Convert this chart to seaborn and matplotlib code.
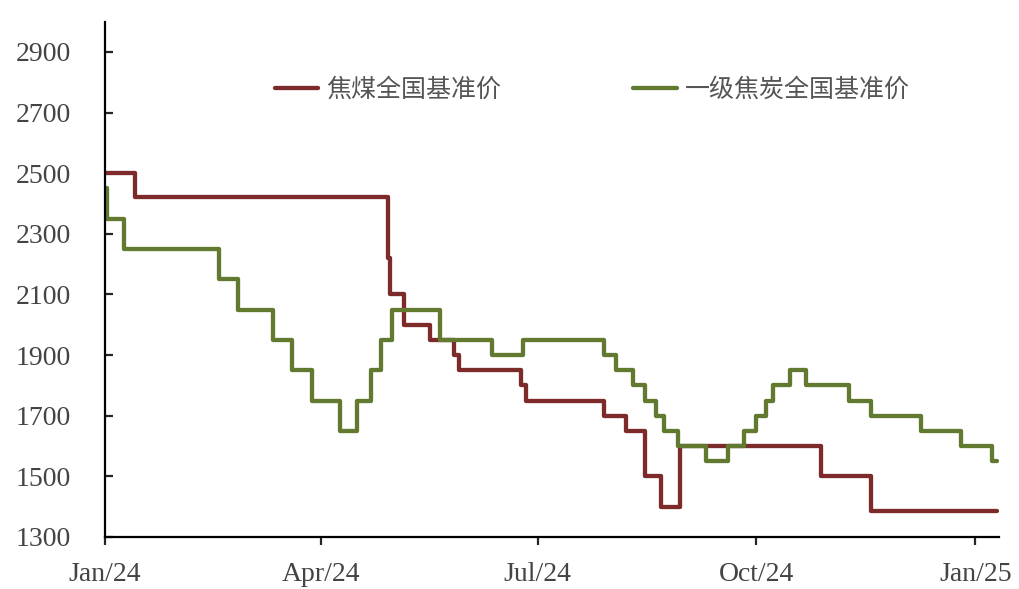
import pandas as pd
import matplotlib.pyplot as plt
import matplotlib.dates as mdates
import seaborn as sns

# 焦煤全国基准价: change dates and prices
coal_dates = [
    "2024-01-01", "2024-01-14", "2024-04-29", "2024-04-30", "2024-05-06",
    "2024-05-17", "2024-05-27", "2024-05-29", "2024-06-24", "2024-06-26",
    "2024-07-29", "2024-08-07", "2024-08-15", "2024-08-22", "2024-08-30",
    "2024-10-28", "2024-11-18", "2025-01-10"
]
coal_prices = [
    2500, 2420, 2220, 2100, 2000,
    1950, 1900, 1850, 1800, 1750,
    1700, 1650, 1500, 1400, 1600,
    1500, 1385, 1385
]

# 一级焦炭全国基准价
coke_dates = [
    "2024-01-01", "2024-01-02", "2024-01-09", "2024-02-18", "2024-02-26",
    "2024-03-12", "2024-03-20", "2024-03-28", "2024-04-09", "2024-04-16",
    "2024-04-22", "2024-04-26", "2024-05-01", "2024-05-21", "2024-06-12",
    "2024-06-25", "2024-07-29", "2024-08-03", "2024-08-10", "2024-08-15",
    "2024-08-20", "2024-08-23", "2024-08-29", "2024-09-10", "2024-09-19",
    "2024-09-26", "2024-10-01", "2024-10-05", "2024-10-08", "2024-10-15",
    "2024-10-22", "2024-11-09", "2024-11-18", "2024-12-09", "2024-12-26",
    "2025-01-08", "2025-01-10"
]
coke_prices = [
    2450, 2350, 2250, 2150, 2050,
    1950, 1850, 1750, 1650, 1750,
    1850, 1950, 2050, 1950, 1900,
    1950, 1900, 1850, 1800, 1750,
    1700, 1650, 1600, 1550, 1600,
    1650, 1700, 1750, 1800, 1850,
    1800, 1750, 1700, 1650, 1600,
    1550, 1550
]

series_names = ["焦煤全国基准价", "一级焦炭全国基准价"]
y_ticks = [1300, 1500, 1700, 1900, 2100, 2300, 2500, 2700, 2900]

df = pd.concat([
    pd.DataFrame({"date": pd.to_datetime(coal_dates), "price": coal_prices, "name": series_names[0]}),
    pd.DataFrame({"date": pd.to_datetime(coke_dates), "price": coke_prices, "name": series_names[1]}),
])

sns.set_style("white")
plt.rcParams["font.family"] = ["Liberation Serif", "Noto Sans CJK SC"]

fig = plt.figure(figsize=(10.19, 5.89), dpi=100)
ax = fig.add_axes([0.1026, 0.0883, 0.8778, 0.8749])

sns.lineplot(data=df, x="date", y="price", hue="name", hue_order=series_names,
             palette=["#7C2A2A", "#617A30"], drawstyle="steps-post",
             linewidth=3.1, estimator=None, ax=ax)

ax.set_xlim(pd.Timestamp("2024-01-01"), pd.Timestamp("2025-01-11"))
ax.set_ylim(1300, 3000)
ax.set_yticks(y_ticks)
ax.xaxis.set_major_locator(mdates.MonthLocator(bymonth=[1, 4, 7, 10]))
ax.xaxis.set_major_formatter(mdates.DateFormatter("%b/%y"))
ax.set_xlabel("")
ax.set_ylabel("")

for s in ["top", "right"]:
    ax.spines[s].set_visible(False)
for s in ["left", "bottom"]:
    ax.spines[s].set_color("black")
    ax.spines[s].set_linewidth(1.6)

ax.tick_params(axis="y", direction="in", length=6, width=1.6, labelsize=20,
               labelcolor="#444444", pad=24, left=True)
ax.tick_params(axis="x", direction="out", length=6, width=1.6, labelsize=20,
               labelcolor="#444444", pad=12, bottom=True)

sns.move_legend(ax, "center left", bbox_to_anchor=(0.19, 0.8675), ncol=2,
                title=None, frameon=False, borderpad=0, borderaxespad=0,
                handlelength=1.75, handletextpad=0.3, columnspacing=5.3,
                labelcolor="#555555",
                prop={"family": ["Noto Sans CJK SC"], "size": 18, "weight": "light"})

fig.savefig("out.png", dpi=100, facecolor="white")
